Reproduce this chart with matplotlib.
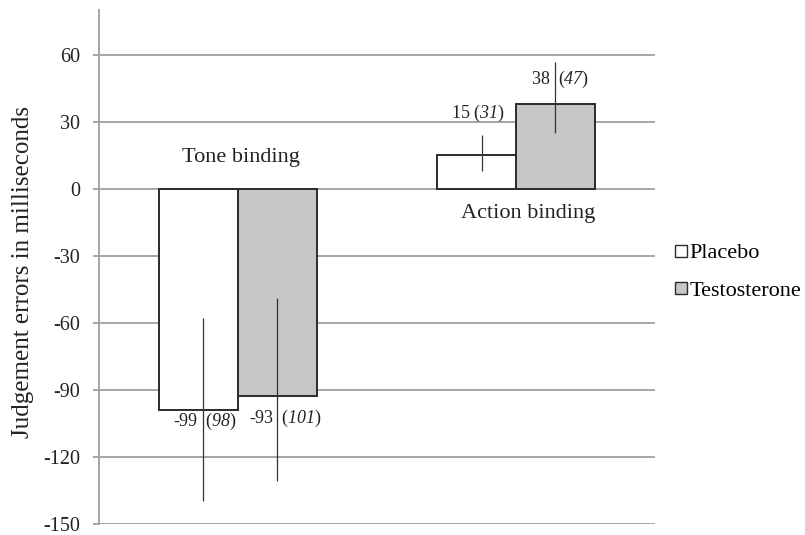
import numpy as np
import matplotlib
matplotlib.use("Agg")
import matplotlib.pyplot as plt
from matplotlib.lines import Line2D

plt.rcParams['font.family'] = ['Liberation Serif', 'DejaVu Serif']
plt.rcParams['axes.unicode_minus'] = False
plt.rcParams['mathtext.fontset'] = 'custom'
plt.rcParams['mathtext.rm'] = 'Liberation Serif'
# digits in \mathit fall back to roman, so the italic face goes in the sf slot
plt.rcParams['mathtext.sf'] = 'Liberation Serif:italic'

# data
groups = ['Tone binding', 'Action binding']
series = ['Placebo', 'Testosterone']
placebo = [-99, 15]
testosterone = [-93, 38]
placebo_sd = [98, 31]
testo_sd = [101, 47]
# error bar extents (lower, upper)
placebo_err = [[41, 7], [41, 9]]
testo_err = [[38, 13], [44, 19]]
colors = ['white', '#c6c6c8']

fig = plt.figure(figsize=(8.05, 5.35), dpi=100)
ax = fig.add_axes([0.123, 0.021, 0.691, 0.960])

x = np.arange(len(groups))
w = 0.285
edge = '#2b2b2b'
ax.bar(x - w/2, placebo, w, color=colors[0], edgecolor=edge, linewidth=1.4, zorder=3)
ax.bar(x + w/2, testosterone, w, color=colors[1], edgecolor=edge, linewidth=1.4, zorder=3)
ax.errorbar(x - w/2 + 0.018, placebo, yerr=placebo_err, fmt='none', ecolor='#333333',
            elinewidth=0.9, capsize=0, zorder=4)
ax.errorbar(x + w/2 - 0.003, testosterone, yerr=testo_err, fmt='none', ecolor='#333333',
            elinewidth=0.9, capsize=0, zorder=4)

ax.set_xlim(-0.5, 1.5)
ax.set_ylim(-150, 80)
ax.set_yticks(np.arange(-150, 61, 30))
ax.set_xticks([])
ax.grid(axis='y', color='#a6a6a6', linewidth=1.4, zorder=0)
for s in ['top', 'right', 'bottom']:
    ax.spines[s].set_visible(False)
ax.spines['left'].set_color('#a6a6a6')
ax.spines['left'].set_linewidth(1.4)
ax.tick_params(axis='y', length=4.5, width=1.4, color='#a6a6a6', labelsize=14.5,
               labelcolor='#222222', pad=9)
ax.set_ylabel('Judgement errors in milliseconds', fontsize=18, color='#222222')
ax.yaxis.set_label_coords(-0.117, 0.49)

# value labels: mean (SD), SD in italics
lab_fs = 13
def mean_sd(m, sd, gap='  '):
    return '%d%s($\\mathsf{%d}$)' % (m, gap, sd)

ax.text(x[0] - w/2 + 0.024, -104.3, mean_sd(placebo[0], placebo_sd[0]),
        ha='center', va='center', fontsize=lab_fs, color='#222222', zorder=5)
ax.text(x[0] + w/2 + 0.027, -102.8, mean_sd(testosterone[0], testo_sd[0]),
        ha='center', va='center', fontsize=lab_fs, color='#222222', zorder=5)
ax.text(x[1] - w/2 + 0.006, 33.6, mean_sd(placebo[1], placebo_sd[1], ' '),
        ha='center', va='center', fontsize=lab_fs, color='#222222', zorder=5)
ax.text(x[1] + w/2 + 0.016, 49.2, mean_sd(testosterone[1], testo_sd[1]),
        ha='center', va='center', fontsize=lab_fs, color='#222222', zorder=5)

ax.text(x[0] + 0.011, 14.1, groups[0], ha='center', va='center', fontsize=16, color='#222222')
ax.text(x[1] + 0.043, -11.2, groups[1], ha='center', va='center', fontsize=16, color='#222222')

handles = [Line2D([], [], marker='s', linestyle='none', markersize=9,
                  markerfacecolor=c, markeredgecolor=edge, markeredgewidth=1.0)
           for c in colors]
fig.legend(handles, series, loc='center left', bbox_to_anchor=(0.821, 0.492),
           frameon=False, fontsize=16, handletextpad=-0.1, labelspacing=0.75,
           handlelength=1.0, borderaxespad=0)

fig.savefig('out.png', dpi=100)
